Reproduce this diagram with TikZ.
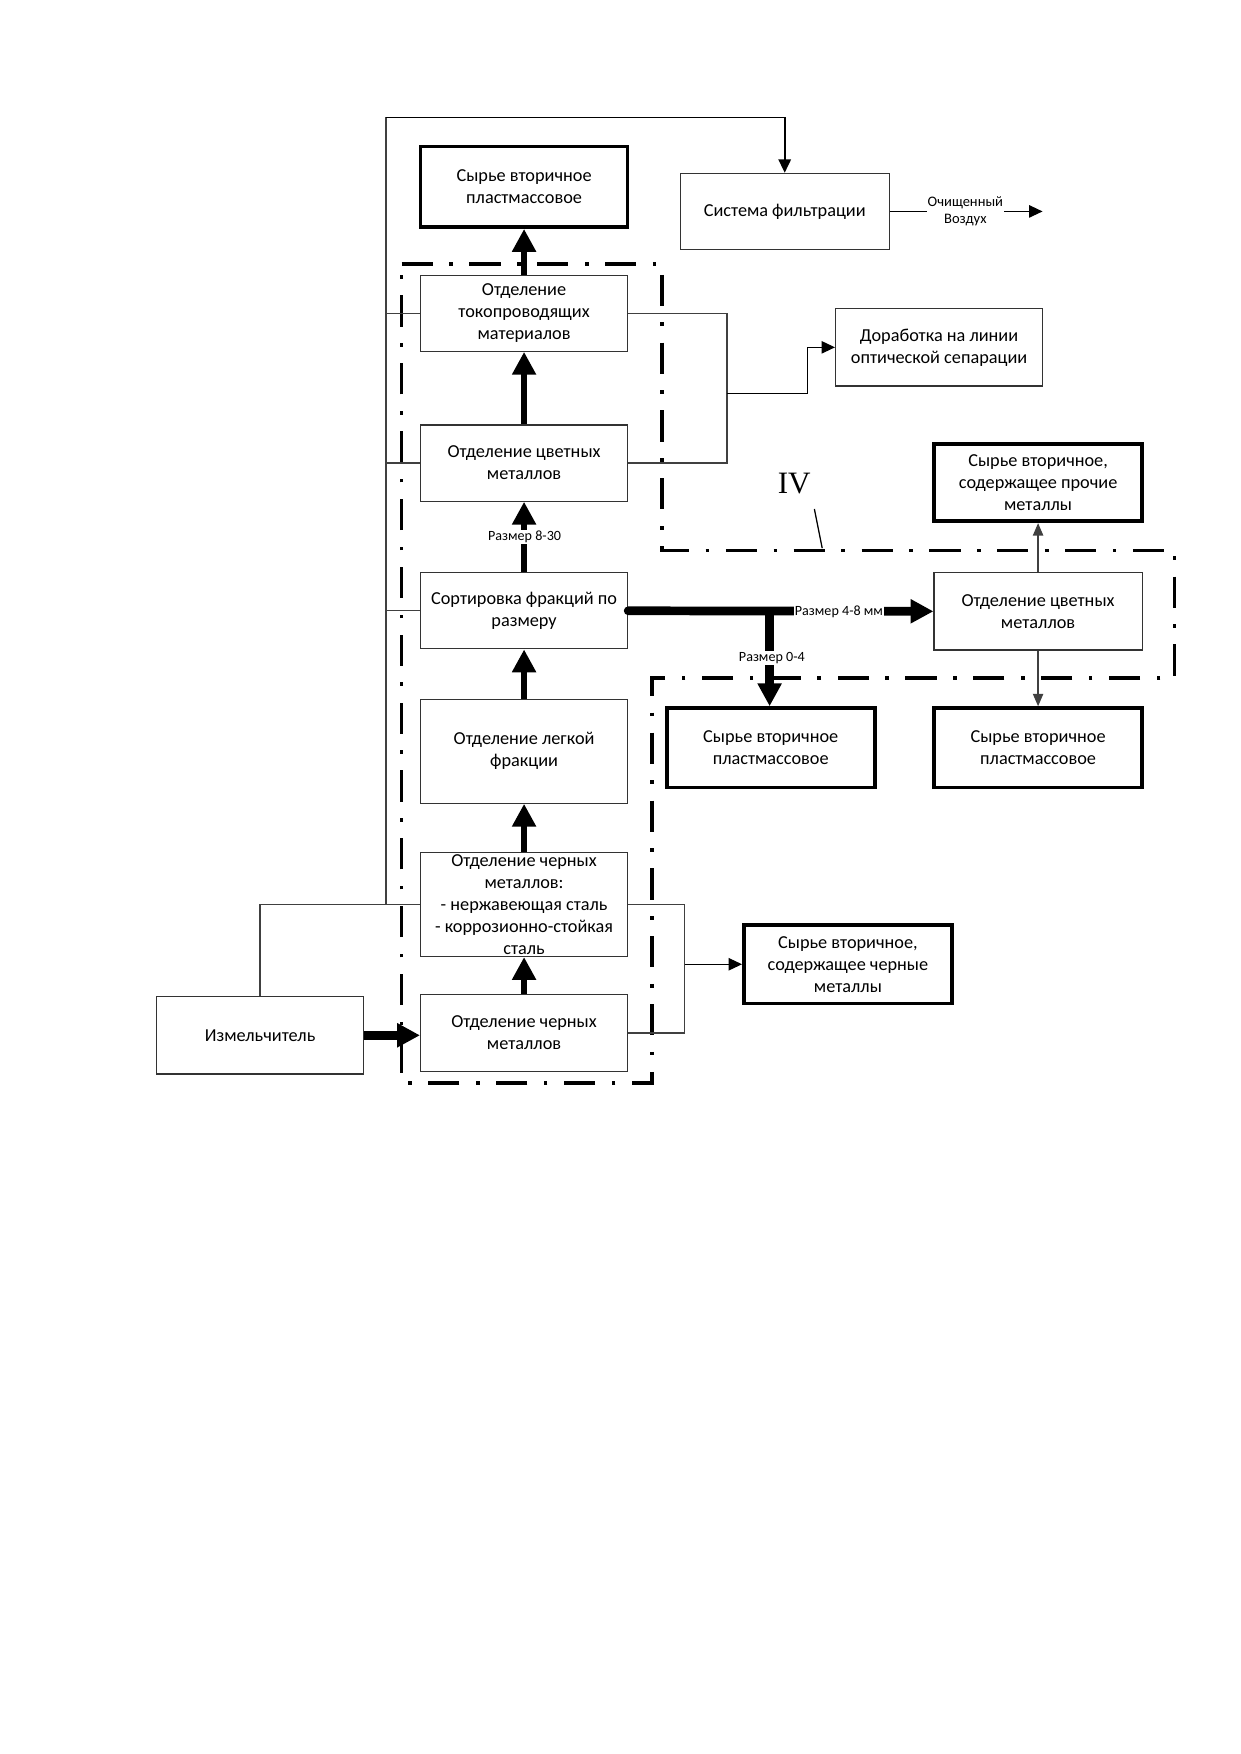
\documentclass[tikz,border=0pt]{standalone}
\usepackage{fontspec}
\setmainfont{Carlito}
\newfontfamily\serifiv{Liberation Serif}
\usetikzlibrary{arrows.meta}
\newcommand\mybox[7]{%
  \node[#1, minimum width={(#5-#3)*0.18949mm}, minimum height={(#6-#4)*0.18949mm}] (#2) at ({(#3+#5)/2},{(#4+#6)/2}) {};
  \node[txt] at (#2.center) {#7};
}
\begin{document}
\begin{tikzpicture}[x=0.18949mm,y=-0.18949mm,
  box/.style={draw=black!80, line width=0.6pt, inner sep=0pt},
  tbox/.style={draw=black, line width=1.8pt, inner sep=0pt},
  txt/.style={align=center, inner sep=0pt, font=\fontsize{8.8}{10.6}\selectfont},
  small/.style={font=\fontsize{6.8}{8}\selectfont, fill=white, inner sep=0.6pt, align=center},
  thk/.style={line width=3.2pt, -{Triangle[length=11pt,width=11pt]}},
  thkh/.style={line width=4.2pt, -{Triangle[length=11pt,width=11pt]}},
  thn/.style={draw=black!75, line width=0.6pt},
  tarrow/.style={thn, -{Triangle[length=6pt,width=5pt]}},
  barrow/.style={draw=black, line width=0.9pt, -{Triangle[length=6.5pt,width=6pt]}},
  frame/.style={line width=1.7pt, dash pattern=on 15pt off 8pt on 1.7pt off 8pt}]
\useasboundingbox (0,0) rectangle (1109,1568);

% dash-dot frame
\draw[frame] (359,236) -- (592,236) -- (592,492) -- (1050,492) -- (1050,606) -- (583,606) -- (583,968) -- (359,968) -- cycle;

% boxes
\mybox{tbox}{spl1}{376}{131}{561}{203}{Сырье вторичное\\пластмассовое}
\mybox{box}{filt}{608}{155}{795}{223}{Система фильтрации}
\mybox{box}{tok}{376}{246}{561}{314}{Отделение\\токопроводящих\\материалов}
\mybox{box}{dor}{747}{276}{932}{345}{Доработка на линии\\оптической сепарации}
\mybox{box}{cv1}{376}{380}{561}{448}{Отделение цветных\\металлов}
\mybox{tbox}{sproch}{835}{397}{1021}{466}{Сырье вторичное,\\содержащее прочие\\металлы}
\mybox{box}{sort}{376}{512}{561}{580}{Сортировка фракций по\\размеру}
\mybox{box}{cvR}{835}{512}{1021}{581}{Отделение цветных\\металлов}
\mybox{box}{legk}{376}{625}{561}{718}{Отделение легкой\\фракции}
\mybox{tbox}{spl2}{596}{633}{782}{704}{Сырье вторичное\\пластмассовое}
\mybox{tbox}{spl3}{835}{633}{1021}{704}{Сырье вторичное\\пластмассовое}
\mybox{box}{blk1}{376}{762}{561}{855}{Отделение черных\\металлов:\\- нержавеющая сталь\\- коррозионно-стойкая\\сталь}
\mybox{tbox}{sblack}{665}{827}{851}{897}{Сырье вторичное,\\содержащее черные\\металлы}
\mybox{box}{izm}{140}{891}{325}{960}{Измельчитель}
\mybox{box}{blk2}{376}{889}{561}{958}{Отделение черных\\металлов}

% coordinates
\coordinate (L) at (345,105);
\coordinate (R1) at (650,352);
\coordinate (K1) at (722,352);
\coordinate (R2) at (612,862);
\coordinate (J) at (688,546);
\coordinate (air) at (932,189);
\coordinate (iv1) at (728,455);
\coordinate (iv2) at (735,490);

% left air-collection line
\draw[thn] (blk1.west) -- (blk1.west -| L) -- (L);
\draw[draw=black, line width=0.9pt] (L) -- (L -| filt.north);
\draw[barrow] (L -| filt.north) -- (filt.north);
\draw[thn] (izm.north) |- (blk1.west);
\draw[thn] (tok.west) -- (tok.west -| L);
\draw[thn] (cv1.west) -- (cv1.west -| L);
\draw[thn] (sort.west) -- (sort.west -| L);

% filtration output
\draw[barrow, line width=0.6pt] (filt.east) -- (air);
\node[font=\fontsize{7}{8}\selectfont, fill=white, inner sep=0.5pt, align=center] at (863,189) {Очищенный\\Воздух};

% main thick flow
\draw[thkh] (izm.east) -- (izm.east -| blk2.west);
\draw[thk] (blk2.north) -- (blk1.south);
\draw[thk] (blk1.north) -- (legk.south);
\draw[thk] (legk.north) -- (sort.south);
\draw[thk] (sort.north) -- (cv1.south);
\node[small] at (469,480) {Размер 8-30};
\draw[thk] (cv1.north) -- (tok.south);
\draw[thk] (tok.north) -- (spl1.south);

% sorting branches
\draw[thkh, line cap=round] (sort.east) -- (cvR.west);
\node[small] at (750,547) {Размер 4-8 мм};
\draw[thkh] (J) -- (J |- spl2.north);
\node[small] at (690,588) {Размер 0-4};

% right column
\draw[tarrow] (cvR.north) -- (sproch.south);
\draw[tarrow] (cvR.south) -- (spl3.north);

% to optical separation
\draw[thn] (tok.east) -- (tok.east -| R1) -- (cv1.east -| R1) -- (cv1.east);
\draw[thn, black, -{Triangle[length=6.5pt,width=6pt]}] (R1) -- (K1) |- (dor.west);

% ferrous output
\draw[thn] (blk1.east) -- (blk1.east -| R2) -- (blk2.east -| R2) -- (blk2.east);
\draw[thn, black, -{Triangle[length=6.5pt,width=6pt]}] (R2) -- (sblack.west);

% IV label
\node[font=\serifiv\fontsize{15}{16}\selectfont, inner sep=0pt] (ivl) at (710,432) {IV};
\draw[thn, black] (iv1) -- (iv2);
\end{tikzpicture}
\end{document}
